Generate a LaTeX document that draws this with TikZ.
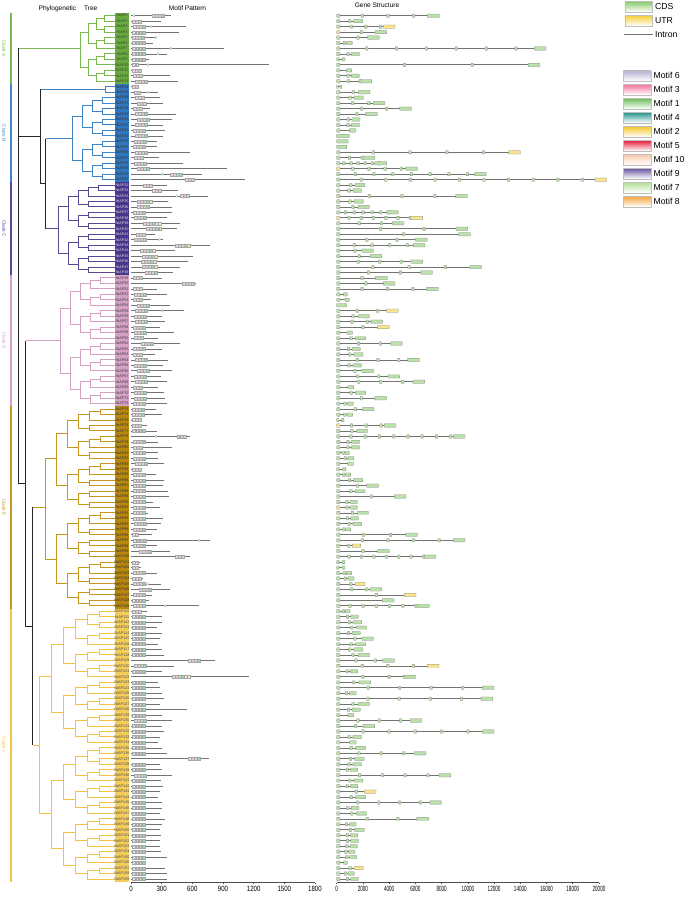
\documentclass[tikz,border=0pt]{standalone}
\usepackage{fontspec}
\setmainfont{Liberation Sans}
\setsansfont{Liberation Sans}
\usepackage{graphicx}
\usetikzlibrary{positioning,calc}

% clade colours (lines / label column)
\definecolor{cA}{RGB}{122,186,80}   \definecolor{cAbg}{RGB}{104,170,62}
\definecolor{cB}{RGB}{62,132,198}   \definecolor{cBbg}{RGB}{48,118,190}
\definecolor{cC}{RGB}{88,70,150}    \definecolor{cCbg}{RGB}{72,54,140}
\definecolor{cD}{RGB}{214,160,196}  \definecolor{cDbg}{RGB}{212,160,198}
\definecolor{cE}{RGB}{198,150,30}   \definecolor{cEbg}{RGB}{184,136,14}
\definecolor{cF}{RGB}{242,196,64}   \definecolor{cFbg}{RGB}{244,204,92}
% motif colours
\definecolor{m1}{RGB}{110,190,90}   \definecolor{m2}{RGB}{245,200,40}
\definecolor{m3}{RGB}{240,120,155}  \definecolor{m4}{RGB}{40,150,145}
\definecolor{m5}{RGB}{230,30,60}    \definecolor{m6}{RGB}{180,175,210}
\definecolor{m7}{RGB}{180,225,150}  \definecolor{m8}{RGB}{245,165,60}
\definecolor{m9}{RGB}{105,85,160}   \definecolor{m10}{RGB}{250,200,175}
\definecolor{cds}{RGB}{130,200,100} \definecolor{utr}{RGB}{245,205,50}

\newcommand{\ytop}{15.7}    % y of first leaf
\newcommand{\ystep}{5.464}  % leaf spacing
\newcommand{\msc}{0.1022}   % px per aa
\newcommand{\gsc}{13.115}   % px per kb
\newcommand{\cc}{cA}

\tikzset{%
  branch/.style    = { draw = \cc, line width = 0.85pt },
  bone/.style      = { draw = black!85, line width = 0.85pt },
  cladebar/.style  = { draw = #1, line width = 1.7pt },
  leaflab/.style   = { font = \fontsize{3.2}{3.5}\selectfont, inner sep = 0pt, text = #1 },
  cladelab/.style  = { font = \fontsize{4}{5}\selectfont, inner sep = 0pt, text = #1, rotate = -90 },
  protline/.style  = { draw = black!55, line width = 0.65pt },
  mbox/.style      = { draw = black!35, line width = 0.15pt, fill = #1!45 },
  intron/.style    = { draw = black!55, line width = 0.65pt },
  exon/.style      = { draw = black!50, line width = 0.2pt, rounded corners = 0.3pt, fill = #1!55 },
  axisline/.style  = { draw = black!70, line width = 0.5pt },
  ticklab/.style   = { font = \fontsize{6.5}{7}\selectfont, inner sep = 0pt },
  title/.style     = { font = \fontsize{5.6}{7}\selectfont, inner sep = 0pt },
  legbox/.style    = { draw = black!25, line width = 0.2pt, top color = #1, bottom color = white,
    minimum width = 8.2mm, minimum height = 3.1mm, inner sep = 0pt },
  legtext/.style   = { font = \fontsize{7.4}{8}\selectfont, inner sep = 0pt },
}

% rectangular subtree over leaves #1..#2, node at x=#3, step #4
\newcommand{\subtree}[4]{%
  \begingroup
  \ifnum#1<#2\relax
    \pgfmathtruncatemacro\ta{(#1+#2)/2}%
    \pgfmathtruncatemacro\tb{\ta+1}%
    \pgfmathsetmacro\ty{\ytop+\ystep*((#1+#2)/2-1)}%
    \pgfmathsetmacro\tx{#3+#4}%
    \coordinate (n#1-#2) at (#3,\ty);
    \edef\tnext{\noexpand\subtree{#1}{\ta}{\tx}{#4}\noexpand\subtree{\tb}{#2}{\tx}{#4}}%
    \tnext
    \draw[branch] (n#1-\ta) -| (n#1-#2) |- (n\tb-#2);
  \fi
  \endgroup}

\begin{document}
\begin{tikzpicture}[x=0.3mm, y=-0.3mm]
  \useasboundingbox[fill=white] (0,0) rectangle (688,897);
  % titles -----------------------------------------------------------------
  \node[title] (ttree)  at (68,9)    {Phylogenetic\hspace{1.2em}Tree};
  \node[title] (tmotif) at (187.5,8) {Motif Pattern};
  \node[title] (tgene)  at (377,5)   {Gene Structure};
  % leaves: motif length/start/boxes/extra, gene kb/exons/utr --------------
  \foreach [count=\i] \pl/\ps/\pk/\pe/\gl/\gn/\gu in {
    % clade A
    391/205/4/20/7.82/5/0, 290/10/3/0/1.98/3/0, 538/20/4/186/4.45/5/1, 469/15/4/0/3.81/3/2,
    245/10/4/235/3.25/3/0, 212/15/4/0/1.19/3/0, 910/15/4/380/15.96/8/0, 349/15/4/255/1.73/3/0,
    176/15/4/0/0.63/2/0, 1350/15/2/156/15.5/4/0, 108/10/3/0/1.14/2/0, 381/20/3/0/1.72/3/0,
    457/40/4/0/2.67/4/0,
    % clade B
    68/10/2/0/0.38/2/0, 264/30/2/160/2.54/3/0, 284/40/3/0/2.03/3/0, 313/60/3/0/3.68/4/0,
    186/20/3/0/5.7/4/0, 440/40/4/0/3.1/3/0, 401/60/4/0/1.78/3/0, 313/40/4/0/1.72/3/0,
    333/20/4/0/1.47/2/0, 313/40/4/0/0.96/1/0, 254/30/4/0/0.89/1/0, 254/20/4/0/0.76/1/0,
    577/40/4/0/14.0/6/1, 274/30/3/0/2.92/4/0, 509/30/4/0/3.81/8/0, 939/60/4/0/6.15/6/2,
    694/381/4/300/11.4/9/0, 1115/528/3/0/20.6/12/1,
    % clade C
    349/117/3/0/2.16/3/0, 460/205/3/0/1.9/3/0, 753/480/3/440/9.96/5/0, 362/60/5/0/2.03/3/0,
    398/60/4/0/2.49/3/0, 398/20/4/0/4.7/8/0, 349/30/4/0/6.56/8/3, 479/117/6/0/5.13/4/0,
    447/150/5/0/10.0/4/0, 235/50/3/0/10.2/3/0, 313/30/4/270/6.9/4/0, 773/430/5/0/6.73/6/0,
    430/90/5/0/2.8/3/0, 606/110/5/0/3.43/3/0, 557/100/5/0/6.56/5/0, 479/110/5/0/11.05/5/0,
    411/140/4/0/7.3/4/0,
    % clade D
    300/20/3/0/3.86/3/0, 640/500/4/0/4.45/3/0, 250/20/3/0/7.75/5/0, 350/30/4/0/0.81/2/0,
    200/20/3/0/0.96/2/0, 380/60/4/0/0.76/1/0, 520/40/4/300/4.7/4/1, 300/30/4/0/2.5/3/0,
    330/40/4/0/3.5/4/0, 280/20/4/0/4.0/3/1, 420/30/4/0/1.2/2/0, 260/30/3/0/2.2/3/0,
    480/100/4/0/5.0/4/0, 300/20/4/0/1.8/3/0, 230/20/3/0/2.0/3/0, 360/40/4/0/6.3/5/0,
    310/30/4/0/1.9/3/0, 400/60/4/0/2.8/3/0, 290/30/4/0/4.8/4/0, 350/40/4/0/6.7/5/0,
    260/20/3/0/1.3/2/0, 320/30/4/0/2.2/3/0, 330/30/4/0/3.8/3/0, 350/20/4/0/1.27/3/0,
    % clade E
    242/10/4/0/2.85/3/0, 306/10/4/0/1.22/3/0, 88/10/3/0/0.56/2/0, 154/10/3/0/4.52/5/2,
    251/15/4/0/2.34/3/0, 577/447/3/235/9.78/10/0, 267/20/4/0/1.73/3/0, 398/20/3/0/1.73/3/0,
    267/20/4/0/0.96/3/0, 267/20/4/0/1.32/3/0, 326/40/4/0/1.27/2/0, 88/10/3/0/0.71/2/0,
    242/20/4/0/1.07/3/0, 326/20/4/0/1.98/3/0, 316/20/4/0/3.18/3/0, 365/20/4/0/2.16/3/0,
    372/20/4/0/5.29/3/0, 218/20/4/0/1.57/3/0, 284/20/4/0/1.57/3/2, 169/20/4/0/2.41/3/0,
    316/20/4/0/1.65/3/0, 293/30/4/0/1.91/3/0, 257/20/4/0/1.07/3/0, 208/10/2/0/6.15/4/0,
    773/25/4/660/9.78/6/0, 257/20/4/0/1.83/3/1, 381/80/4/0/4.01/3/0, 577/430/3/0/7.57/9/0,
    88/10/2/0/0.63/2/0, 98/10/2/0/0.63/2/0, 251/20/4/0/1.14/3/0, 120/10/3/0/1.32/3/0,
    293/20/4/154/2.16/3/1, 381/80/4/0/3.43/4/0, 202/20/4/0/6.05/3/1, 176/15/4/0/4.37/2/0,
    665/20/4/326/7.06/8/0,
    % clade F
    154/10/3/0/1.02/3/0, 306/15/4/0/1.65/3/0, 306/15/4/0/1.91/3/0, 250/15/4/0/2.3/3/0,
    300/15/4/0/1.8/3/0, 280/15/4/0/2.8/3/0, 260/15/4/0/2.2/3/0, 300/15/4/0/2.0/3/0,
    320/15/4/0/2.5/3/0, 820/560/4/0/4.4/4/0, 420/30/4/0/7.8/5/1, 300/15/4/0/1.6/3/0,
    1150/400/6/0/6.0/4/0, 260/15/4/0/2.6/3/0, 280/15/4/0/12.0/6/0, 300/15/4/0/1.5/3/0,
    320/15/4/0/11.9/6/0, 280/15/4/0/2.5/3/0, 550/15/4/0/1.8/3/0, 300/15/4/0/1.3/2/0,
    400/30/4/0/6.5/5/0, 300/15/4/0/2.9/3/0, 320/15/4/0/12.0/7/0, 280/15/4/0/1.9/3/0,
    260/15/4/0/1.5/2/0, 300/15/4/0/2.2/3/0, 350/15/4/0/6.8/5/0, 760/560/4/0/2.1/3/0,
    280/15/4/0/1.9/3/0, 300/15/4/0/1.6/3/0, 400/30/4/0/8.7/6/0, 290/15/4/0/2.0/3/0,
    310/15/4/0/1.6/3/0, 280/15/4/0/3.0/3/1, 260/15/4/0/2.2/3/0, 300/15/4/0/8.0/6/0,
    300/15/4/0/1.7/3/0, 280/15/4/0/2.3/3/0, 330/15/4/0/7.0/4/0, 300/15/4/0/1.5/3/0,
    280/15/4/0/2.1/3/0, 290/15/4/0/1.6/3/0, 284/15/4/0/1.65/3/0, 284/15/4/0/1.57/3/0,
    293/15/4/0/1.4/3/0, 349/15/4/0/1.53/3/0, 137/15/4/0/0.81/2/0, 333/15/4/0/2.03/3/1,
    349/15/4/0/1.34/3/0, 349/15/4/0/1.65/3/0%
  }{
    \pgfmathsetmacro\y{\ytop+\ystep*(\i-1)}
    \coordinate (n\i-\i) at (115,\y);
    % motif pattern
    \coordinate (m\i)  at (131,\y);
    \coordinate (me\i) at ({131+\pl*\msc},\y);
    \draw[protline] (m\i) -- (me\i);
    \foreach \j/\c in {1/m6,2/m3,3/m1,4/m4,5/m2,6/m10}{
      \ifnum\j>\pk\relax\else
        \pgfmathsetmacro\bx{131+(\ps+(\j-1)*30)*\msc}
        \draw[mbox=\c] (\bx,\y-1.5) rectangle ++(2.9,3);
      \fi}
    \ifnum\pe>0
      \draw[mbox=m7, rounded corners=0.5pt] ({131+\pe*\msc},\y-1.2) rectangle ++(1.8,2.4);
    \fi
    % gene structure
    \pgfmathsetmacro\glen{\gl*\gsc}
    \pgfmathsetmacro\wa{min(0.25,\gl*0.3)*\gsc}
    \pgfmathsetmacro\wb{min(0.9,\gl*0.35)*\gsc}
    \coordinate (g\i)  at (336.7,\y);
    \coordinate (ge\i) at ({336.7+\glen},\y);
    \draw[intron] (g\i) -- (ge\i);
    \ifnum\gn>2
      \pgfmathtruncatemacro\nm{\gn-2}
      \foreach \j in {1,...,\nm}{
        \pgfmathsetmacro\xx{336.7+\glen*\j/(\gn-1)-1.3}
        \draw[exon=cds] (\xx,\y-1.7) rectangle ++(2.6,3.4);}
    \fi
    \def\fa{cds}\def\fb{cds}
    \ifnum\gu>1 \def\fa{utr}\fi
    \ifodd\gu \def\fb{utr}\fi
    \ifnum\gn=1
      \draw[exon=\fa] (g\i) ++(0,-1.7) rectangle ++(\glen,3.4);
    \else
      \draw[exon=\fa] (g\i) ++(0,-1.7) rectangle ++(\wa,3.4);
      \draw[exon=\fb] (ge\i) ++(-\wb,-1.7) rectangle ++(\wb,3.4);
    \fi
  }
  % tree -------------------------------------------------------------------
  \renewcommand{\cc}{cA}\subtree{1}{13}{80.5}{8}
  \renewcommand{\cc}{cB}\subtree{14}{15}{105.5}{0}\subtree{16}{31}{72.5}{10}
  \renewcommand{\cc}{cC}\subtree{32}{48}{58.5}{10}
  \renewcommand{\cc}{cD}\subtree{49}{72}{60.5}{10}
  \renewcommand{\cc}{cE}\subtree{73}{109}{45.5}{11}
  \renewcommand{\cc}{cF}\subtree{110}{159}{39.5}{12}
  % backbone
  \coordinate (qm)  at ($(n16-31)!0.5!(n32-48)$);
  \coordinate (q)   at (qm -| 45.5,0);
  \coordinate (bcm) at ($(n14-15)!0.5!(q)$);
  \coordinate (bc)  at (bcm -| 40.5,0);
  \coordinate (efm) at ($(n73-109)!0.5!(n110-159)$);
  \coordinate (ef)  at (efm -| 32.5,0);
  \coordinate (dfm) at ($(n49-72)!0.5!(ef)$);
  \coordinate (def) at (dfm -| 25.5,0);
  \coordinate (rt)  at (n1-13 -| 18.5,0);
  \draw[bone] (q |- n16-31) -- (q |- n32-48);
  \draw[bone] (bc |- n14-15) -- (bc |- q) -- (q);
  \draw[bone] (ef |- n73-109) -- (ef |- n110-159);
  \draw[bone] (def |- n49-72) -- (def |- ef) -- (ef);
  \draw[bone] (rt) -- (rt |- def) -- (def);
  \draw[bone] (rt |- bc) -- (bc);
  \renewcommand{\cc}{cA}\draw[branch] (rt) -- (n1-13);
  \renewcommand{\cc}{cB}\draw[branch] (bc |- n14-15) -- (n14-15);
  \draw[branch] (q |- n16-31) -- (n16-31);
  \renewcommand{\cc}{cC}\draw[branch] (q |- n32-48) -- (n32-48);
  \renewcommand{\cc}{cD}\draw[branch] (def |- n49-72) -- (n49-72);
  \renewcommand{\cc}{cE}\draw[branch] (ef |- n73-109) -- (n73-109);
  \renewcommand{\cc}{cF}\draw[branch] (ef |- n110-159) -- (n110-159);
  % label column, clade bars ----------------------------------------------
  \foreach \a/\b/\c/\t/\lab in {1/13/cA/black!75/Clade A, 14/31/cB/black!80/Clade B,
      32/48/cC/white!85!black/Clade C, 49/72/cD/black!75/Clade D,
      73/109/cE/black!80/Clade E, 110/159/cF/black!70/Clade F}{
    \pgfmathsetmacro\ya{\ytop+\ystep*(\a-1)-2.7}
    \pgfmathsetmacro\yb{\ytop+\ystep*(\b-1)+2.7}
    \fill[\c bg] (115,\ya) rectangle (129,\yb);
    \draw[cladebar=\c] (11,\ya) -- (11,\yb);
    \node[cladelab=\c] at (4,{(\ya+\yb)/2}) {\lab};
    \foreach \i in {\a,...,\b}{
      \node[leaflab=\t] (L\i) at (122,{\ytop+\ystep*(\i-1)}) {NtAP\i};}
  }
  % axes -------------------------------------------------------------------
  \coordinate (ma0) at (131,882.5);
  \coordinate (ma1) at (315,882.5);
  \draw[axisline] (ma0) -- (ma1);
  \foreach \v in {0,300,...,1800}{
    \coordinate (mt\v) at ({131+\v*\msc},882.5);
    \draw[axisline] (mt\v) -- ++(0,1.5);
    \node[ticklab, below=1.1mm of mt\v] {\scalebox{0.8}[1]{\v}};}
  \coordinate (ga0) at (336.7,882.5);
  \coordinate (ga1) at (599,882.5);
  \draw[axisline] (ga0) -- (ga1);
  \foreach \kb in {0,2,...,20}{
    \coordinate (gt\kb) at ({336.7+\kb*\gsc},882.5);
    \draw[axisline] (gt\kb) -- ++(0,1.5);
    \node[ticklab, below=1.1mm of gt\kb] {\scalebox{0.6}[1]{\ifnum\kb=0 0\else\kb000\fi}};}
  % legend -----------------------------------------------------------------
  \node[legbox=cds, minimum height=3.3mm] (lcds) at (638.5,6.5) {};
  \node[legtext, right=0.8mm of lcds] (tcds) {CDS};
  \node[legbox=utr, minimum height=3.3mm] (lutr) at (638.5,20.5) {};
  \node[legtext, right=0.8mm of lutr] (tutr) {UTR};
  \coordinate (li0) at (624,34.5);
  \coordinate (li1) at (653,34.5);
  \draw[intron] (li0) -- (li1);
  \node[legtext, right=0.6mm of li1] (tint) {Intron};
  \foreach \t/\c [count=\j] in {Motif 6/m6, Motif 3/m3, Motif 1/m1, Motif 4/m4, Motif 2/m2,
      Motif 5/m5, Motif 10/m10, Motif 9/m9, Motif 7/m7, Motif 8/m8}{
    \node[legbox=\c] (lm\j) at (637,{75.8+13.97*(\j-1)}) {};
    \node[legtext, right=0.8mm of lm\j] (tm\j) {\t};}
\end{tikzpicture}
\end{document}
